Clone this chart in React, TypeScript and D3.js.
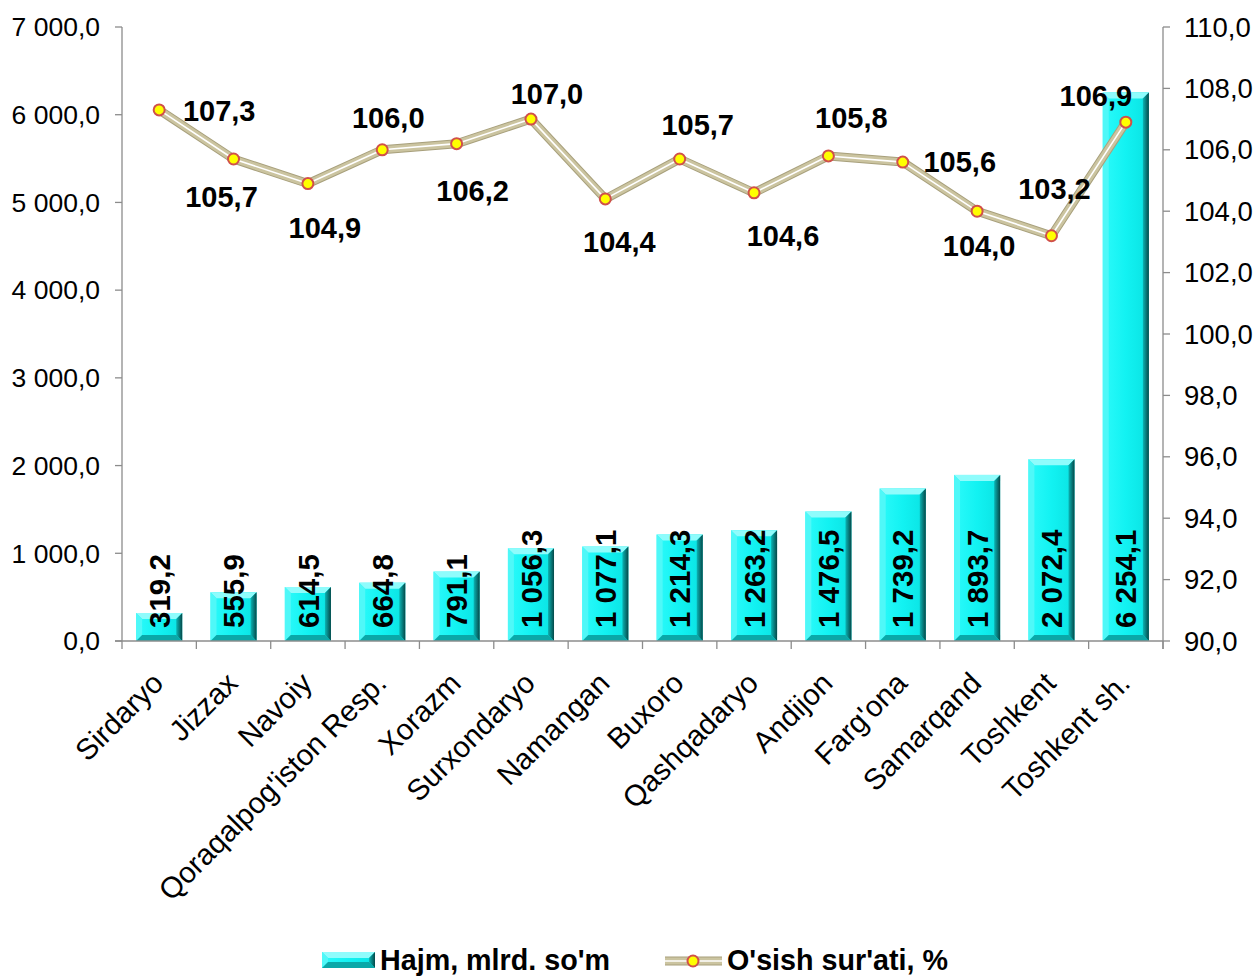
import React from "react";
import * as d3 from "d3";

const categories = [
  "Sirdaryo", "Jizzax", "Navoiy", "Qoraqalpog'iston Resp.", "Xorazm", "Surxondaryo",
  "Namangan", "Buxoro", "Qashqadaryo", "Andijon", "Farg'ona", "Samarqand", "Toshkent", "Toshkent sh.",
];
const volume = [319.2, 555.9, 614.5, 664.8, 791.1, 1056.3, 1077.1, 1214.3, 1263.2, 1476.5, 1739.2, 1893.7, 2072.4, 6254.1];
const growth = [107.3, 105.7, 104.9, 106.0, 106.2, 107.0, 104.4, 105.7, 104.6, 105.8, 105.6, 104.0, 103.2, 106.9];
const leftTicks = [0, 1000, 2000, 3000, 4000, 5000, 6000, 7000];
const rightTicks = [90, 92, 94, 96, 98, 100, 102, 104, 106, 108, 110];
const seriesNames = ["Hajm, mlrd. so'm", "O'sish sur'ati, %"];

// label offsets (layout only) relative to each line point
const lineLabelOffsets: [number, number][] = [
  [60, 1], [-12, 38], [17, 44], [6, -32], [16, 47], [16, -26], [14, 43],
  [18, -34], [29, 43], [23, -38], [57, -1], [2, 34], [3, -47], [-30, -27],
];

const W = 1255, H = 976;
const L = 122, R = 1163, T = 27, B = 641;
const FONT = "'Liberation Sans', Arial, sans-serif";

const loc = d3.formatLocale({ decimal: ",", thousands: "\u00a0", grouping: [3], currency: ["", ""] });
const fmt = loc.format(",.1f");

function Bar({ x, y, w, h }: { x: number; y: number; w: number; h: number }) {
  const b = Math.min(6, h / 2);
  const y0 = y + h;
  return (
    <g>
      <rect x={x} y={y} width={w} height={h} fill={`url(#face)`} />
      <polygon points={`${x},${y} ${x + w},${y} ${x + w - b},${y + b} ${x + b},${y + b}`} fill="#8ffcfc" />
      <polygon points={`${x},${y} ${x + b},${y + b} ${x + b},${y0 - b} ${x},${y0}`} fill="#4ff8f8" />
      <polygon points={`${x + w},${y} ${x + w},${y0} ${x + w - b},${y0 - b} ${x + w - b},${y + b}`} fill="url(#rightEdge)" />
      <polygon points={`${x},${y0} ${x + w},${y0} ${x + w - b},${y0 - b} ${x + b},${y0 - b}`} fill="#0aa8a8" />
    </g>
  );
}

export default function App() {
  const x = d3.scaleBand<string>().domain(categories).range([L, R]).paddingInner(0).paddingOuter(0);
  const yL = d3.scaleLinear().domain([0, 7000]).range([B, T]);
  const yR = d3.scaleLinear().domain([90, 110]).range([B, T]);
  const bw = x.bandwidth() * 0.62;
  const cx = (c: string) => (x(c) as number) + x.bandwidth() / 2;

  const linePts: [number, number][] = categories.map((c, i) => [cx(c), yR(growth[i])]);
  const lineGen = d3.line();
  const path = lineGen(linePts) || "";
  const axisColor = "#8c8c8c";

  return (
    <svg width={W} height={H} style={{ position: "absolute", left: 0, top: 0, background: "#fff" }} fontFamily={FONT}>
      <defs>
        <linearGradient id="face" x1="0" x2="1" y1="0" y2="0">
          <stop offset="0" stopColor="#2cfafa" />
          <stop offset="0.5" stopColor="#12f2f2" />
          <stop offset="1" stopColor="#0ae2e2" />
        </linearGradient>
        <linearGradient id="rightEdge" x1="0" x2="1" y1="0" y2="0">
          <stop offset="0" stopColor="#0bb5b5" />
          <stop offset="1" stopColor="#054848" />
        </linearGradient>
      </defs>
      <rect x={0} y={0} width={W} height={H} fill="#fff" />

      {/* bars */}
      {categories.map((c, i) => {
        const yv = yL(volume[i]);
        return <Bar key={c} x={cx(c) - bw / 2} y={yv} w={bw} h={B - yv} />;
      })}

      {/* axes */}
      <g stroke={axisColor} strokeWidth={1.3} fill="none">
        <line x1={L} x2={L} y1={T} y2={B} />
        <line x1={R} x2={R} y1={T} y2={B + 8} />
        <line x1={L - 7} x2={R} y1={B} y2={B} />
        {leftTicks.map((t) => (
          <line key={"lt" + t} x1={L - 7} x2={L} y1={yL(t)} y2={yL(t)} />
        ))}
        {rightTicks.map((t) => (
          <line key={"rt" + t} x1={R} x2={R + 7} y1={yR(t)} y2={yR(t)} />
        ))}
        {d3.range(categories.length + 1).map((k) => {
          const xx = L + k * x.bandwidth();
          return <line key={"bt" + k} x1={xx} x2={xx} y1={B} y2={B + 8} />;
        })}
      </g>
      {leftTicks.map((t) => (
        <text key={"ll" + t} x={L - 22} y={yL(t)} dy="0.35em" textAnchor="end" fontSize={26.5} fill="#000">
          {fmt(t)}
        </text>
      ))}
      {rightTicks.map((t) => (
        <text key={"rl" + t} x={R + 21} y={yR(t)} dy="0.35em" textAnchor="start" fontSize={27.5} fill="#000">
          {fmt(t)}
        </text>
      ))}

      {/* category labels */}
      {categories.map((c) => (
        <text
          key={"cl" + c}
          transform={`translate(${cx(c) + 6},${B + 44}) rotate(-45)`}
          textAnchor="end"
          fontSize={29.5}
          fill="#000"
        >
          {c}
        </text>
      ))}

      {/* bar labels */}
      {categories.map((c, i) => (
        <text
          key={"bl" + c}
          transform={`translate(${cx(c)},${B - 13}) rotate(-90)`}
          textAnchor="start"
          dy="0.36em"
          fontSize={29.5}
          fontWeight="bold"
          fill="#000"
        >
          {fmt(volume[i])}
        </text>
      ))}

      {/* line */}
      <path d={path} fill="none" stroke="#a8a07c" strokeWidth={9} strokeLinejoin="round" />
      <path d={path} fill="none" stroke="#cbc4a0" strokeWidth={7} strokeLinejoin="round" />
      <path d={path} fill="none" stroke="#ffffff" strokeWidth={1.6} strokeLinejoin="round" />
      {linePts.map((p, i) => (
        <circle key={"m" + i} cx={p[0]} cy={p[1]} r={5.5} fill="#ffff00" stroke="#d0504a" strokeWidth={2} />
      ))}
      {linePts.map((p, i) => (
        <text
          key={"gl" + i}
          x={p[0] + lineLabelOffsets[i][0]}
          y={p[1] + lineLabelOffsets[i][1]}
          dy="0.36em"
          textAnchor="middle"
          fontSize={29}
          fontWeight="bold"
          fill="#000"
        >
          {fmt(growth[i])}
        </text>
      ))}

      {/* legend */}
      <g>
        <Bar x={322} y={952} w={53} h={16} />
        <text x={380} y={970} fontSize={28.7} fontWeight="bold" fill="#000">{seriesNames[0]}</text>
        <line x1={665} x2={722} y1={961} y2={961} stroke="#a8a07c" strokeWidth={9} />
        <line x1={665} x2={722} y1={961} y2={961} stroke="#cbc4a0" strokeWidth={7} />
        <line x1={665} x2={722} y1={961} y2={961} stroke="#fff" strokeWidth={1.6} />
        <circle cx={693} cy={961} r={5.5} fill="#ffff00" stroke="#d0504a" strokeWidth={2} />
        <text x={727} y={970} fontSize={28.7} fontWeight="bold" fill="#000">{seriesNames[1]}</text>
      </g>
    </svg>
  );
}
